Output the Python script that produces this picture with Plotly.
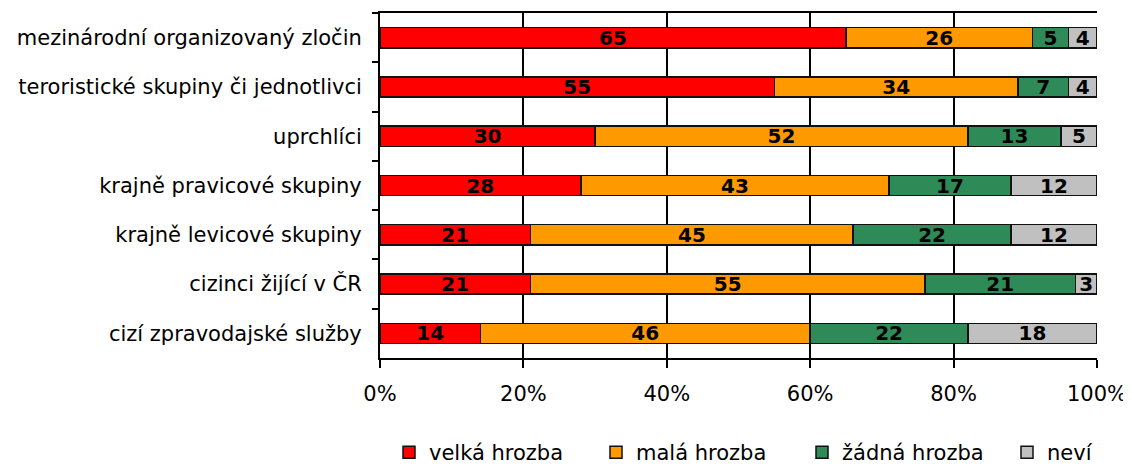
import plotly.graph_objects as go

categories = [
    "mezinárodní organizovaný zločin",
    "teroristické skupiny či jednotlivci",
    "uprchlíci",
    "krajně pravicové skupiny",
    "krajně levicové skupiny",
    "cizinci žijící v ČR",
    "cizí zpravodajské služby",
]
series_names = ["velká hrozba", "malá hrozba", "žádná hrozba", "neví"]
velka = [65, 55, 30, 28, 21, 21, 14]
mala = [26, 34, 52, 43, 45, 55, 46]
zadna = [5, 7, 13, 17, 22, 21, 22]
nevi = [4, 4, 5, 12, 12, 3, 18]
colors = ["#FF0000", "#FF9900", "#2E8B57", "#C0C0C0"]
x_ticks = [0, 20, 40, 60, 80, 100]
x_ticklabels = ["0%", "20%", "40%", "60%", "80%", "100%"]

FONT = "DejaVu Sans"
W, H = 1123, 458  # page body has an 8px default margin
legend_ids = ["legend", "legend2", "legend3", "legend4"]
legend_left = [381, 588, 794, 999]

fig = go.Figure()
for name, vals, col, lid in zip(series_names, [velka, mala, zadna, nevi], colors, legend_ids):
    fig.add_trace(go.Bar(
        y=categories, x=vals, name=name, orientation="h", legend=lid,
        marker=dict(color=col, line=dict(color="#111111", width=1.5)),
        text=[str(v) for v in vals], textposition="inside",
        insidetextanchor="middle", textangle=0, constraintext="none",
        textfont=dict(family=FONT, size=20, color="black", weight="bold"),
    ))

legends = {}
for lid, lx in zip(legend_ids, legend_left):
    legends[lid] = dict(orientation="h", xref="container", yref="container",
                        x=lx / W, xanchor="left", y=1 - 424 / H, yanchor="top",
                        font=dict(family=FONT, size=21), itemwidth=30,
                        bgcolor="rgba(0,0,0,0)")

fig.update_layout(
    barmode="stack", bargap=0.59,
    width=W, height=H,
    margin=dict(l=372, r=34, t=5, b=108, autoexpand=False),
    plot_bgcolor="white", paper_bgcolor="white",
    font=dict(family=FONT, size=21, color="black"),
    showlegend=True,
    xaxis=dict(range=[0, 100], tickvals=x_ticks, ticktext=x_ticklabels,
               showgrid=True, gridcolor="black", gridwidth=2,
               showline=True, linecolor="black", linewidth=2, mirror=True,
               ticks="outside", ticklen=8, tickwidth=2, tickcolor="black",
               zeroline=False, automargin=False, ticklabelstandoff=8),
    yaxis=dict(autorange="reversed", showgrid=False,
               showline=True, linecolor="black", linewidth=2,
               ticks="outside", ticklen=6, tickwidth=2, tickcolor="black",
               tickson="boundaries", ticklabelstandoff=12, automargin=False),
    **legends,
)
fig.write_html("out.html")
